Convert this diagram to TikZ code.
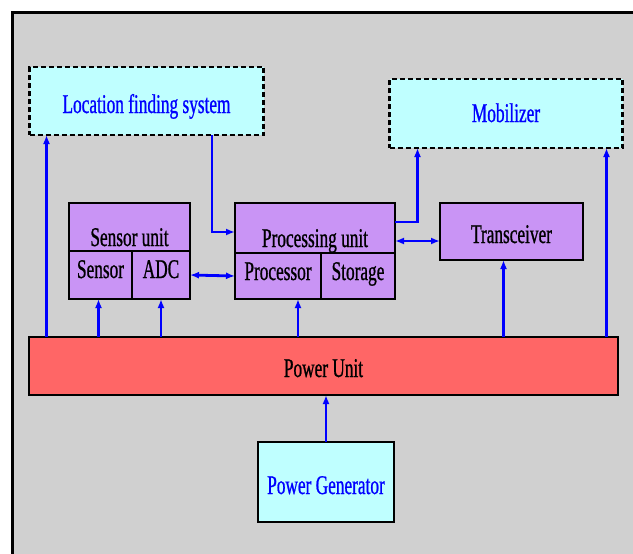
\documentclass[tikz,border=0pt]{standalone}
\usepackage{fontspec}
\newfontfamily\labfont[FakeStretch=0.64,FakeBold=0.8]{Liberation Serif}
\usetikzlibrary{arrows.meta}
\definecolor{bggrey}{HTML}{D0D0D0}
\definecolor{lcyan}{HTML}{BFFFFF}
\definecolor{lpurple}{HTML}{C994F5}
\definecolor{lred}{HTML}{FF6666}
\definecolor{pblue}{HTML}{0000FF}
\tikzset{
  box/.style={draw=black, line width=2.6pt, inner sep=0pt, outer sep=0pt,
    font=\labfont\fontsize{27}{30}\selectfont, text=black},
  dbox/.style={box, dash pattern=on 5pt off 3pt, fill=lcyan, text=pblue},
  pbox/.style={box, fill=lpurple},
  arr/.style={draw=pblue, line width=2.8pt, -{Latex[length=9pt,width=7pt]}},
  darr/.style={draw=pblue, line width=2.8pt, {Latex[length=9pt,width=7pt]}-{Latex[length=9pt,width=7pt]}}
}
\begin{document}
\begin{tikzpicture}[x=1pt,y=-1pt]
\useasboundingbox (0,0) rectangle (633,554);
\fill[bggrey] (12,12) rectangle (640,560);
\draw[line width=3pt] (12,560) -- (12,12) -- (640,12);
% boxes
\node[dbox, minimum width=234pt, minimum height=68pt, text height=26pt, text depth=2pt] (loc) at (146.5,101) {Location finding system};
\node[dbox, minimum width=233pt, minimum height=69pt, text height=20pt, text depth=3pt] (mob) at (506,113.5) {Mobilizer};
\node[pbox, minimum width=121pt, minimum height=48pt, text height=38pt, text depth=0pt] (su) at (129.5,227) {Sensor unit};
\node[pbox, minimum width=63pt, minimum height=48pt, text height=20pt, text depth=14pt] (sen) at (100.5,275) {Sensor};
\node[pbox, minimum width=58pt, minimum height=48pt, text height=20pt, text depth=14pt] (adc) at (161,275) {ADC};
\node[pbox, minimum width=160pt, minimum height=50pt, text height=38pt, text depth=0pt] (proc) at (315,228) {Processing unit};
\node[pbox, minimum width=86pt, minimum height=46pt, text height=20pt, text depth=12pt] (cpu) at (278,276) {Processor};
\node[pbox, minimum width=74pt, minimum height=46pt, text height=20pt, text depth=12pt] (sto) at (358,276) {Storage};
\node[pbox, minimum width=143pt, minimum height=57pt, text height=25pt, text depth=2pt] (tr) at (511.5,231.5) {Transceiver};
\node[box, fill=lred, minimum width=589pt, minimum height=58pt, text height=24pt, text depth=2pt] (pu) at (323.5,366) {Power Unit};
\node[box, fill=lcyan, text=pblue, minimum width=136pt, minimum height=80pt, text height=26pt, text depth=2pt] (gen) at (326,482) {Power Generator};
% connectors
\draw[arr] ([xshift=17pt]loc.south west |- pu.north) -- ([xshift=17pt]loc.south west);
\draw[arr] ([xshift=-16pt]mob.south east |- pu.north) -- ([xshift=-16pt]mob.south east);
\draw[arr] ([xshift=-51.5pt]loc.south east) |- ([yshift=-4pt]proc.west);
\draw[arr] ([yshift=6pt]proc.east) -| ([xshift=28pt]mob.south west);
\draw[darr] (adc.east) -- (cpu.west);
\draw[darr] ([yshift=-9.5pt]tr.west -| proc.east) -- ([yshift=-9.5pt]tr.west);
\draw[arr] ([xshift=-2pt]sen.south |- pu.north) -- ([xshift=-2pt]sen.south);
\draw[arr] (adc.south |- pu.north) -- (adc.south);
\draw[arr] ([xshift=20pt]cpu.south |- pu.north) -- ([xshift=20pt]cpu.south);
\draw[arr] ([xshift=-8pt]tr.south |- pu.north) -- ([xshift=-8pt]tr.south);
\draw[arr] (gen.north) -- (gen.north |- pu.south);
\end{tikzpicture}
\end{document}
